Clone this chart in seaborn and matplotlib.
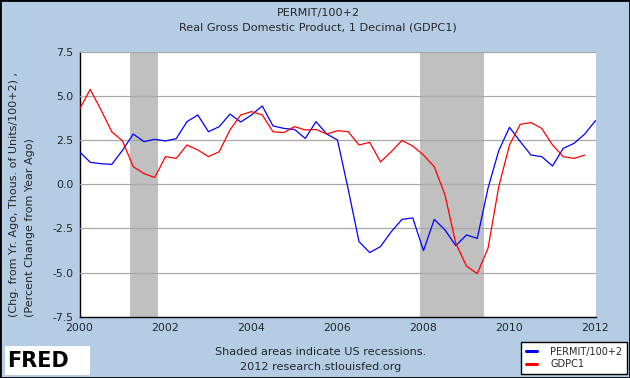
import numpy as np
import pandas as pd
import seaborn as sns
import matplotlib.pyplot as plt
from matplotlib.patches import Rectangle

# quarterly values
permit = [1.84, 1.24, 1.16, 1.12,
          1.92, 2.84, 2.41, 2.54,
          2.45, 2.58, 3.54, 3.92,
          2.97, 3.26, 3.97, 3.52,
          3.92, 4.43, 3.30, 3.16,
          3.10, 2.59, 3.54, 2.84,
          2.50, -0.30, -3.25, -3.87,
          -3.53, -2.69, -1.99, -1.91,
          -3.76, -1.99, -2.59, -3.48,
          -2.87, -3.07, -0.23, 1.90,
          3.22, 2.41, 1.65, 1.56,
          1.03, 2.03, 2.31, 2.84,
          3.60]
gdpc1 = [4.24, 5.37, 4.20, 2.97,
         2.45, 0.99, 0.60, 0.38,
         1.56, 1.46, 2.22, 1.94,
         1.56, 1.84, 3.07, 3.92,
         4.11, 3.92, 2.97, 2.92,
         3.26, 3.07, 3.10, 2.84,
         3.03, 2.97, 2.22, 2.37,
         1.26, 1.84, 2.48, 2.16,
         1.65, 0.99, -0.61, -3.34,
         -4.64, -5.06, -3.63, -0.14,
         2.22, 3.39, 3.49, 3.16,
         2.22, 1.56, 1.46, 1.65]
recessions = [(2001.167, 2001.833), (2007.917, 2009.417)]
x_ticks = [2000, 2002, 2004, 2006, 2008, 2010, 2012]
y_ticks = [-7.5, -5.0, -2.5, 0.0, 2.5, 5.0, 7.5]

quarters = 2000 + np.arange(len(permit)) * 0.25
df = pd.concat([
    pd.DataFrame({'date': quarters, 'value': permit, 'series': 'PERMIT/100+2'}),
    pd.DataFrame({'date': quarters[:len(gdpc1)], 'value': gdpc1,
                  'series': 'GDPC1'}),
])

bg = '#B4CCE4'
sns.set_style('white')
plt.rcParams['font.family'] = ['DejaVu Sans']

fig = plt.figure(figsize=(6.3, 3.78), dpi=100, facecolor=bg)
ax = fig.add_axes([79.5 / 630, 1 - 316.7 / 378, 516 / 630, 265 / 378])
ax.set_facecolor('white')

for start, end in recessions:
    ax.axvspan(start, end, color='#C0C0C0', lw=0, zorder=1)

sns.lineplot(data=df, x='date', y='value', hue='series',
             palette={'PERMIT/100+2': '#0000FF', 'GDPC1': '#FF0000'},
             linewidth=0.9, ax=ax, zorder=3)

ax.set_xlim(2000, 2012)
ax.set_ylim(-7.5, 7.5)
ax.set_xticks(x_ticks)
ax.set_xticklabels([str(t) for t in x_ticks], fontsize=7.8)
ax.set_yticks(y_ticks)
ax.set_yticklabels([f'{t:.1f}' for t in y_ticks], fontsize=7.8)
ax.yaxis.grid(True, color='#A8A8A8', lw=0.9, zorder=2)
ax.set_axisbelow(False)
ax.tick_params(direction='in', length=4, width=1, color='black', pad=4.5)
ax.set_xlabel('')
ax.set_ylabel('')
for side in ['top', 'right']:
    ax.spines[side].set_visible(False)
for side in ['left', 'bottom']:
    ax.spines[side].set_color('black')
    ax.spines[side].set_linewidth(1.0)

# titles
fig.text(0.505, 1 - 13 / 378, 'PERMIT/100+2', ha='center', va='center',
         fontsize=8.1)
fig.text(0.505, 1 - 27 / 378, 'Real Gross Domestic Product, 1 Decimal (GDPC1)',
         ha='center', va='center', fontsize=8.1)

# y label lines
fig.text(14 / 630, 1 - 317 / 378, '(Chg. from Yr. Ago, Thous. of Units/100+2) ,',
         rotation=90, ha='center', va='bottom', fontsize=8.0)
fig.text(30 / 630, 1 - 317 / 378, '(Percent Change from Year Ago)',
         rotation=90, ha='center', va='bottom', fontsize=8.0)

# footer
fig.text(321 / 630, 1 - 352 / 378, 'Shaded areas indicate US recessions.',
         ha='center', va='center', fontsize=8.1)
fig.text(321 / 630, 1 - 367 / 378, '2012 research.stlouisfed.org',
         ha='center', va='center', fontsize=8.1)

# FRED logo
fig.patches.append(Rectangle((5 / 630, 1 - 375 / 378), 85 / 630, 29 / 378,
                             transform=fig.transFigure, facecolor='white',
                             edgecolor='none'))
fig.text(7 / 630, 1 - 361 / 378, 'FRED', ha='left', va='center',
         fontsize=15, fontweight='bold', color='black')

# legend
handles, labels = ax.get_legend_handles_labels()
leg = ax.legend(handles, labels, loc='lower right',
                bbox_to_anchor=(627 / 630, 1 - 374 / 378),
                bbox_transform=fig.transFigure, fontsize=7.0,
                frameon=True, fancybox=False, framealpha=1,
                edgecolor='black', handlelength=1.2, handletextpad=1.3,
                borderpad=0.5, labelspacing=0.25, borderaxespad=0)
leg.get_frame().set_linewidth(1)
for line in leg.get_lines():
    line.set_linewidth(2.2)

# outer border
fig.patches.append(Rectangle((0, 0), 1, 1, transform=fig.transFigure,
                             facecolor='none', edgecolor='black', lw=2))

plt.savefig('out.png', dpi=100, facecolor=bg)
